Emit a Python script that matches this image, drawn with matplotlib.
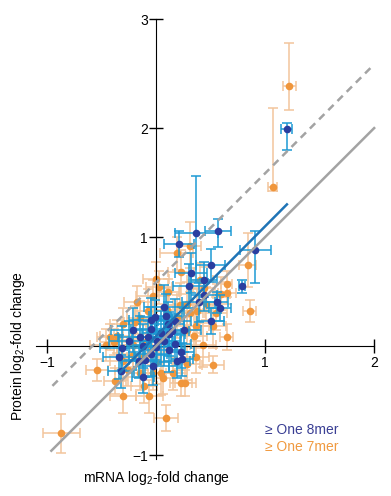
import matplotlib
matplotlib.use('Agg')
import numpy as np
from matplotlib import pyplot as plt
from matplotlib import transforms

plt.rcParams['font.family'] = ['Liberation Sans', 'DejaVu Sans']
plt.rcParams['mathtext.default'] = 'regular'

# ≥ one 8mer: x, y, x error, y error (low, high)
blue_x = [1.20, 0.37, 0.57, 0.21, 0.91, 0.50, 0.32, 0.79, 0.44, 0.30, 0.44, 0.56, 0.59, 0.39, 0.07,
          0.50, -0.05, -0.01, -0.05, -0.21, 0.11, 0.17, 0.05, -0.15, -0.07, 0.12, 0.15, 0.26, -0.31,
          0.01, 0.07, 0.17, -0.12, -0.05, 0.00, 0.12, 0.24, 0.19, -0.34, -0.16, -0.10, -0.32, -0.12,
          0.23, -0.03, 0.09, -0.25]
blue_y = [1.99, 1.04, 1.06, 0.94, 0.88, 0.74, 0.67, 0.55, 0.61, 0.55, 0.47, 0.40, 0.35, 0.40, 0.36,
          0.23, 0.24, 0.27, 0.16, 0.15, 0.20, 0.23, 0.12, 0.08, 0.08, 0.11, 0.14, 0.15, -0.02,
          0.05, 0.05, 0.02, 0.00, -0.07, -0.01, -0.04, -0.12, -0.14, -0.10, -0.14, -0.13, -0.23, -0.28,
          -0.05, -0.18, 0.28, 0.05]
blue_xe = [0.05, 0.20, 0.12, 0.14, 0.14, 0.13, 0.15, 0.03, 0.12, 0.14, 0.12, 0.10, 0.10, 0.15, 0.18,
           0.12, 0.20, 0.15, 0.18, 0.20, 0.15, 0.15, 0.18, 0.20, 0.15, 0.15, 0.15, 0.15, 0.20,
           0.15, 0.15, 0.15, 0.15, 0.15, 0.15, 0.15, 0.10, 0.12, 0.15, 0.15, 0.15, 0.12, 0.10,
           0.12, 0.15, 0.15, 0.18]
blue_ylo = [0.19, 0.45, 0.15, 0.12, 0.30, 0.15, 0.18, 0.06, 0.16, 0.20, 0.15, 0.10, 0.12, 0.18, 0.20,
            0.12, 0.20, 0.15, 0.20, 0.20, 0.20, 0.20, 0.20, 0.20, 0.15, 0.20, 0.15, 0.20, 0.20,
            0.20, 0.20, 0.20, 0.20, 0.20, 0.15, 0.20, 0.15, 0.15, 0.20, 0.15, 0.15, 0.15, 0.15,
            0.15, 0.18, 0.20, 0.18]
blue_yhi = [0.06, 0.52, 0.11, 0.12, 0.18, 0.15, 0.18, 0.06, 0.16, 0.20, 0.15, 0.10, 0.12, 0.18, 0.20,
            0.12, 0.20, 0.15, 0.20, 0.20, 0.20, 0.20, 0.20, 0.20, 0.15, 0.20, 0.15, 0.20, 0.20,
            0.20, 0.20, 0.20, 0.20, 0.20, 0.15, 0.20, 0.15, 0.15, 0.20, 0.15, 0.15, 0.15, 0.15,
            0.15, 0.18, 0.20, 0.18]

# ≥ one 7mer
orange_x = [1.22, 1.07, -0.87, 0.09, -0.30, -0.54, -0.38, 0.52, 0.65, 0.86, 0.84, 0.65, 0.65, -0.17,
            0.03, 0.11, -0.03, 0.19, 0.31, -0.15, -0.19, -0.36, -0.46, -0.39, -0.24, -0.21, -0.09,
            -0.04, -0.21, -0.12, 0.00, 0.05, 0.06, -0.06, -0.11, 0.23, 0.27, 0.16, 0.28, 0.35, 0.31,
            0.40, 0.44, 0.46, 0.22, 0.19, 0.10, 0.37, 0.28, 0.23, 0.52, 0.43, 0.37, 0.28, -0.30,
            -0.26, -0.15, -0.03, 0.38, 0.55, 0.60, -0.42, -0.30, -0.07, 0.00]
orange_y = [2.39, 1.46, -0.80, -0.66, -0.46, -0.22, -0.32, -0.17, 0.08, 0.32, 0.74, 0.57, 0.49, 0.40,
            0.54, 0.50, 0.46, 0.85, 0.92, 0.26, 0.22, 0.09, 0.01, 0.04, 0.06, 0.01, 0.04,
            -0.02, -0.08, -0.10, -0.15, -0.25, -0.29, -0.46, -0.37, -0.34, -0.34, -0.25, 0.15, 0.09, 0.30,
            0.61, 0.53, 0.39, 0.38, 0.27, 0.33, 0.18, 0.39, 0.68, 0.18, 0.01, -0.10, -0.16, -0.14,
            -0.22, -0.25, -0.25, 0.32, 0.30, 0.48, 0.08, 0.20, 0.32, 0.62]
orange_xe = [0.06, 0.04, 0.17, 0.11, 0.12, 0.10, 0.10, 0.10, 0.06, 0.06, 0.08, 0.05, 0.08, 0.12,
             0.12, 0.10, 0.15, 0.15, 0.10, 0.12, 0.10, 0.15, 0.15, 0.12, 0.15, 0.15, 0.15,
             0.15, 0.15, 0.15, 0.15, 0.12, 0.10, 0.12, 0.12, 0.10, 0.10, 0.12, 0.12, 0.12, 0.12,
             0.12, 0.10, 0.12, 0.12, 0.12, 0.12, 0.12, 0.12, 0.12, 0.12, 0.12, 0.12, 0.12, 0.12,
             0.12, 0.12, 0.12, 0.12, 0.10, 0.08, 0.12, 0.12, 0.12, 0.12]
orange_ylo = [0.22, 0.04, 0.18, 0.12, 0.15, 0.10, 0.12, 0.08, 0.12, 0.10, 0.20, 0.12, 0.10, 0.15,
              0.15, 0.12, 0.15, 0.15, 0.20, 0.15, 0.15, 0.15, 0.15, 0.12, 0.15, 0.20, 0.15,
              0.15, 0.20, 0.15, 0.20, 0.20, 0.15, 0.15, 0.15, 0.12, 0.12, 0.15, 0.15, 0.20, 0.20,
              0.15, 0.20, 0.15, 0.20, 0.20, 0.20, 0.20, 0.20, 0.20, 0.20, 0.20, 0.15, 0.15, 0.15,
              0.15, 0.15, 0.15, 0.20, 0.15, 0.15, 0.12, 0.15, 0.20, 0.15]
orange_yhi = [0.39, 0.72, 0.18, 0.12, 0.15, 0.10, 0.12, 0.08, 0.12, 0.10, 0.30, 0.12, 0.10, 0.15,
              0.15, 0.12, 0.15, 0.15, 0.22, 0.15, 0.15, 0.15, 0.15, 0.12, 0.15, 0.20, 0.15,
              0.15, 0.20, 0.15, 0.20, 0.20, 0.15, 0.15, 0.15, 0.12, 0.12, 0.15, 0.15, 0.20, 0.20,
              0.15, 0.20, 0.15, 0.20, 0.20, 0.20, 0.20, 0.20, 0.20, 0.20, 0.20, 0.15, 0.15, 0.15,
              0.15, 0.15, 0.15, 0.20, 0.15, 0.15, 0.12, 0.15, 0.20, 0.15]

# reference lines
diag_x = [-0.96, 2.0]
diag_y = [-0.96, 2.0]
dash_x = [-0.95, 2.0]
dash_y = [-0.365, 2.585]
fit_x = [-0.33, 1.20]
fit_y = [-0.24, 1.30]

xticks = [-1, 1, 2]
xticklabels = ['\u22121', '1', '2']
yticks = [-1, 1, 2, 3]
yticklabels = ['\u22121', '1', '2', '3']

fig = plt.figure(figsize=(3.91, 4.96), dpi=100)
ax = fig.add_axes([0.0783, 0.0605, 0.8926, 0.912])
ax.set_xlim(-1.15, 2.05)
ax.set_ylim(-1.1, 3.05)

# orange error bars and dots
ax.errorbar(orange_x, orange_y, xerr=orange_xe, yerr=[orange_ylo, orange_yhi], fmt='none',
            ecolor='#f2c59c', elinewidth=1.1, capsize=3.5, capthick=1.1, zorder=2)
ax.plot(orange_x, orange_y, 'o', ms=5.5, color='#f0963c', mew=0, zorder=2.5)
# blue error bars and dots
ax.errorbar(blue_x, blue_y, xerr=blue_xe, yerr=[blue_ylo, blue_yhi], fmt='none',
            ecolor='#1c9ad4', elinewidth=1.1, capsize=3.5, capthick=1.1, zorder=3)
ax.plot(blue_x, blue_y, 'o', ms=5.5, color='#2a3ea0', mew=0, zorder=3.5)

ax.plot(diag_x, diag_y, color='#a3a3a3', lw=1.8, zorder=4)
ax.plot(dash_x, dash_y, color='#a3a3a3', lw=1.8, ls=(0, (3, 2.2)), zorder=4)
ax.plot(fit_x, fit_y, color='#1f74b6', lw=1.8, zorder=5)

for s in ['top', 'right']:
    ax.spines[s].set_visible(False)
ax.spines['left'].set_position(('data', 0))
ax.spines['bottom'].set_position(('data', 0))
ax.spines['left'].set_bounds(-1.04, 3)
ax.spines['bottom'].set_bounds(-1.1, 2)
ax.set_xticks(xticks)
ax.set_xticklabels(xticklabels)
ax.set_yticks(yticks)
ax.set_yticklabels(yticklabels)
ax.tick_params(direction='inout', length=10, width=1, labelsize=10, pad=2)
ax.tick_params(axis='y', pad=1)

tr_y = transforms.blended_transform_factory(fig.transFigure, ax.transData)
ax.text(0.046, 0, 'Protein log$_2$-fold change', transform=tr_y, rotation=90,
        ha='center', va='center', fontsize=10)
tr_x = transforms.blended_transform_factory(ax.transData, fig.transFigure)
ax.text(0, 0.036, 'mRNA log$_2$-fold change', transform=tr_x,
        ha='center', va='center', fontsize=10)

ax.text(1.0, -0.77, '\u2265 One 8mer', color='#3a3f94', fontsize=10, va='center')
ax.text(1.0, -0.93, '\u2265 One 7mer', color='#f09a40', fontsize=10, va='center')

fig.savefig('out.png', dpi=100)
